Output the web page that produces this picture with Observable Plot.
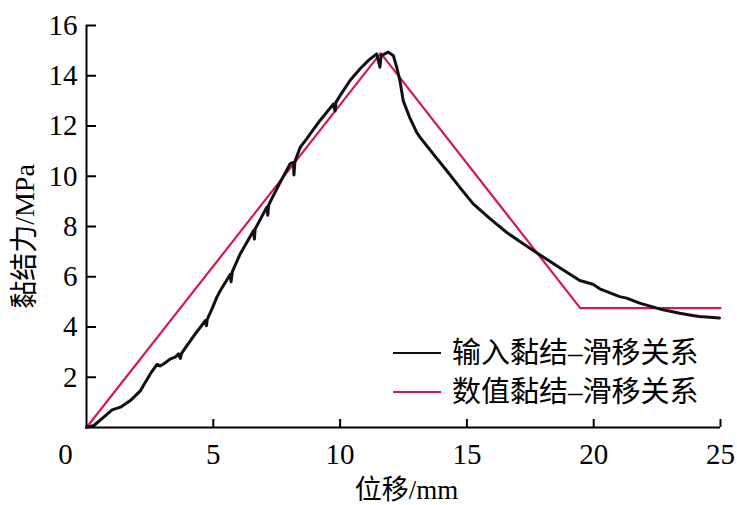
<!DOCTYPE html>
<html>
<head>
<meta charset="utf-8">
<script src="https://cdn.jsdelivr.net/npm/d3@7"></script>
<script src="https://cdn.jsdelivr.net/npm/@observablehq/plot@0.6"></script>
<style>
  body { margin: 0; background: #fff; }
  #wrap { position: relative; width: 737px; height: 505px; }
  .leg { position: absolute; left: 393px; display: flex; align-items: center;
         font-family: "Liberation Serif", "Noto Sans CJK SC", serif; font-size: 29px; color: #000; line-height: 1; white-space: nowrap; }
  .sw { width: 48px; height: 0; margin-right: 11px; }
</style>
</head>
<body>
<div id="wrap"></div>
<script>
// Input bond-slip relation (measured, black)
const inputX = [0, 0.29, 0.68, 1.01, 1.34, 1.73, 2.13, 2.52, 2.78, 2.9, 3.04, 3.31, 3.5, 3.63, 3.7, 3.75, 3.96, 4.29, 4.69, 4.73, 4.76, 4.95, 5.14, 5.28, 5.67, 5.7, 5.75, 6.06, 6.59, 6.62, 6.65, 7.11, 7.15, 7.18, 7.57, 8.03, 8.16, 8.18, 8.22, 8.43, 8.69, 8.82, 9.21, 9.74, 9.8, 9.84, 10.0, 10.39, 10.79, 11.12, 11.44, 11.57, 11.62, 11.9, 12.1, 12.23, 12.36, 12.49, 12.76, 13.02, 13.15, 13.67, 14.2, 14.72, 15.25, 15.91, 16.56, 17.22, 17.87, 18.6, 19.45, 19.97, 20.24, 21.02, 21.3, 21.81, 22.6, 23.39, 23.9, 24.17, 24.96];
const inputY = [0, 0.08, 0.41, 0.70, 0.81, 1.07, 1.47, 2.14, 2.51, 2.45, 2.53, 2.73, 2.8, 2.93, 2.75, 2.95, 3.26, 3.73, 4.26, 4.05, 4.3, 4.72, 5.19, 5.45, 6.1, 5.8, 6.2, 6.91, 7.84, 7.5, 7.9, 8.77, 8.45, 8.85, 9.63, 10.5, 10.55, 10.05, 10.6, 11.16, 11.5, 11.69, 12.22, 12.88, 12.6, 12.95, 13.21, 13.81, 14.28, 14.61, 14.87, 14.34, 14.8, 14.94, 14.8, 14.34, 13.8, 13.0, 12.3, 11.75, 11.55, 10.89, 10.23, 9.56, 8.9, 8.31, 7.77, 7.31, 6.88, 6.4, 5.85, 5.7, 5.52, 5.21, 5.15, 4.95, 4.72, 4.55, 4.46, 4.42, 4.36];
// Numerical bond-slip relation (red)
const numX = [0, 11.6, 19.47, 25];
const numY = [0, 14.9, 4.75, 4.75];

const xTicks = [5, 10, 15, 20, 25];
const yTicks = [2, 4, 6, 8, 10, 12, 14, 16];
const originLabel = [0];
const xLabel = ["位移/mm"];
const yLabel = ["黏结力/MPa"];
const seriesNames = ["输入黏结–滑移关系", "数值黏结–滑移关系"];
const seriesColors = ["#111111", "#d7194b"];

const input = inputX.map((x, i) => ({x, y: inputY[i]}));
const numeric = numX.map((x, i) => ({x, y: numY[i]}));

const font = "Liberation Serif, Noto Sans CJK SC, serif";

const chart = Plot.plot({
  width: 737,
  height: 505,
  marginLeft: 86,
  marginRight: 17,
  marginTop: 25,
  marginBottom: 78,
  x: {domain: [0, 25]},
  y: {domain: [0, 16]},
  style: {fontFamily: font, fontSize: "29px", color: "#000", background: "#fff", overflow: "visible"},
  marks: [
    Plot.line(numeric, {x: "x", y: "y", stroke: seriesColors[1], strokeWidth: 2.2}),
    Plot.line(input, {x: "x", y: "y", stroke: seriesColors[0], strokeWidth: 3, strokeLinejoin: "round"}),
    Plot.ruleY([0], {stroke: "#000", strokeWidth: 2}),
    Plot.ruleX([0], {stroke: "#000", strokeWidth: 2}),
    Plot.axisX({ticks: xTicks, tickSize: -8, tickPadding: 24, strokeWidth: 2, label: null, fontSize: 29}),
    Plot.axisY({ticks: yTicks, tickSize: -10, tickPadding: 19, strokeWidth: 2, label: null, fontSize: 29}),
    Plot.text(originLabel, {x: d => d, text: d => String(d), frameAnchor: "bottom", dx: -21, dy: 16, lineAnchor: "top", fontSize: 29}),
    Plot.text(xLabel, {text: d => d, frameAnchor: "bottom", dx: 3, dy: 52, lineAnchor: "top", fontSize: 27}),
    Plot.text(yLabel, {text: d => d, frameAnchor: "left", textAnchor: "middle", dx: -61, dy: 10, rotate: -90, fontSize: 28})
  ]
});

const wrap = document.getElementById("wrap");
wrap.appendChild(chart);

const legTops = [353, 392];
seriesNames.forEach((name, i) => {
  const row = document.createElement("div");
  row.className = "leg";
  row.style.top = (legTops[i] - 15) + "px";
  row.style.height = "30px";
  const sw = document.createElement("div");
  sw.className = "sw";
  sw.style.borderTop = `${i === 0 ? 2.8 : 2.4}px solid ${seriesColors[i]}`;
  const t = document.createElement("span");
  t.textContent = name;
  row.appendChild(sw);
  row.appendChild(t);
  wrap.appendChild(row);
});
</script>
</body>
</html>
